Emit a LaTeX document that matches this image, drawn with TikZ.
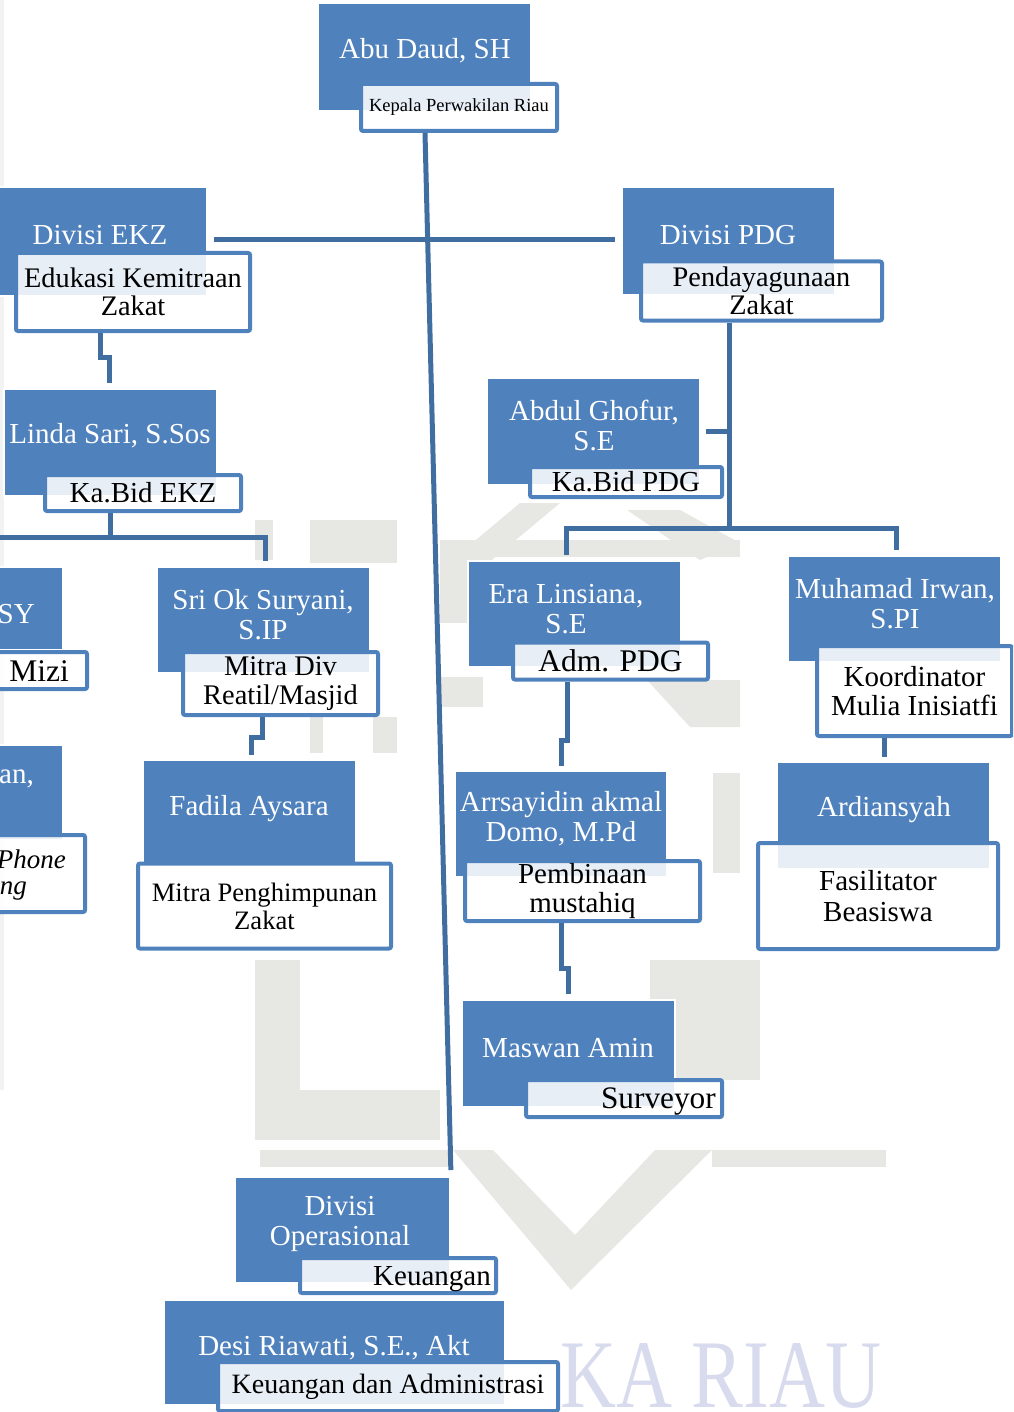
\documentclass[tikz,border=0pt]{standalone}
\usepackage{fontspec}
\setmainfont{Liberation Serif}
\usetikzlibrary{fit}
\definecolor{boxblue}{RGB}{79,129,189}
\definecolor{linkblue}{RGB}{65,110,160}
\definecolor{wmgray}{RGB}{231,232,227}
\definecolor{wmlilac}{RGB}{216,219,237}

\begin{document}
\begin{tikzpicture}[x=1pt, y=-1pt,
  namebox/.style={fill=boxblue, draw=white, line width=2pt, inner sep=0pt},
  rolebox/.style={draw=boxblue, line width=4pt, rounded corners=2pt, fill=white,
    fill opacity=0.87, text opacity=1, inner sep=0pt,
    font=\fontsize{29}{29.5}\selectfont, align=center},
  nametext/.style={text=white, font=\fontsize{29}{30}\selectfont, align=center, inner sep=0pt},
  roletext/.style={font=\fontsize{29}{30}\selectfont, inner sep=0pt},
  link/.style={draw=linkblue, line width=5pt},
  wm/.style={fill=wmgray}]

\useasboundingbox (0,0) rectangle (1013,1412);
\clip (0,0) rectangle (1013,1412);

% watermark in the back
\fill[gray!10] (0,0) rectangle (4,1090);
\fill[wm] (440,540) rectangle (740,557);
\fill[wm] (440,557) rectangle (473,623);
\fill[wm] (440,570) -- (520,503) -- (560,503) -- (480,570) -- cycle;
\fill[wm] (627,510) -- (680,510) -- (740,543) -- (700,560) -- cycle;
\fill[wm] (255,520) rectangle (273,560);
\fill[wm] (310,520) rectangle (397,563);
\fill[wm] (310,717) rectangle (323,753);
\fill[wm] (373,717) rectangle (397,753);
\fill[wm] (440,677) rectangle (483,707);
\fill[wm] (647,680) -- (740,680) -- (740,727) -- (690,727) -- cycle;
\fill[wm] (713,773) rectangle (740,873);
\fill[wm] (255,960) rectangle (300,1140);
\fill[wm] (300,1090) rectangle (440,1140);
\fill[wm] (650,960) rectangle (760,1080);
\fill[wm] (260,1150) rectangle (453,1167);
\fill[wm] (712,1150) rectangle (886,1167);
\fill[wm] (453,1150) -- (493,1150) -- (575,1235) -- (655,1150) -- (712,1150) -- (571,1290) -- cycle;
\node[text=wmlilac, font=\fontsize{97}{97}\selectfont, xscale=0.8, anchor=base west, inner sep=0pt]
  (wmtext) at (560,1407) {KA RIAU};

% head
\node[namebox, fit={(318,3) (531,111)}] (abu) {};
\node[nametext] (abu-t) at (425,51) {Abu Daud, SH};
\node[rolebox, minimum width=196, minimum height=47, font=\fontsize{18.5}{19}\selectfont] (kepala) at (459,107.5) {Kepala Perwakilan Riau};

% divisi EKZ
\node[namebox, fit={(-10,187) (207,296)}] (ekz) {};
\node[nametext] (ekz-t) at (100,235) {Divisi EKZ};
\node[rolebox, minimum width=234, minimum height=78, font=\fontsize{28.3}{28.5}\selectfont] (ekzr) at (133,292) {Edukasi Kemitraan\\Zakat};

\node[namebox, fit={(4,389) (217,496)}] (linda) {};
\node[nametext] (linda-t) at (110,436) {Linda Sari, S.Sos};
\node[rolebox, minimum width=196, minimum height=36] (lindar) at (143,493) {Ka.Bid EKZ};

\node[namebox, fit={(-150,567) (63,650)}] (sy) {};
\node[nametext, anchor=base east] (sy-t) at (35,623) {SY};
\node[rolebox, minimum width=237, minimum height=37] (syr) at (-31.5,670.5) {};
\node[roletext, anchor=base east, font=\fontsize{31.5}{32}\selectfont] (syr-t) at (69,681) {Mizi};

\node[namebox, fit={(-150,745) (63,840)}] (an) {};
\node[nametext, anchor=base east] (an-t) at (34,783) {an,};
\node[rolebox, minimum width=235, minimum height=77] (anr) at (-32.5,873.5) {};
\node[roletext, anchor=base east, font=\fontsize{27}{27}\itshape] (anr-t1) at (66,868) {Phone};
\node[roletext, anchor=base east, font=\fontsize{27}{27}\itshape] (anr-t2) at (27,894) {ng};

\node[namebox, fit={(157,567) (370,673)}] (sri) {};
\node[nametext] (sri-t) at (263,615) {Sri Ok Suryani,\\S.IP};
\node[rolebox, minimum width=195, minimum height=63, font=\fontsize{28.4}{29}\selectfont] (srir) at (280.5,683.5) {Mitra Div\\Reatil/Masjid};

\node[namebox, fit={(143,760) (356,866)}] (fadila) {};
\node[nametext] (fadila-t) at (249,809) {Fadila Aysara};
\node[rolebox, minimum width=253, minimum height=85, font=\fontsize{26.6}{28}\selectfont] (fadilar) at (264.5,906) {Mitra Penghimpunan\\Zakat};

% divisi PDG
\node[namebox, fit={(622,187) (835,295)}] (pdg) {};
\node[nametext] (pdg-t) at (728,235) {Divisi PDG};
\node[rolebox, minimum width=241, minimum height=59, font=\fontsize{28.3}{28.5}\selectfont] (pdgr) at (761.5,291) {Pendayagunaan\\Zakat};

\node[namebox, fit={(487,378) (700,485)}] (abdul) {};
\node[nametext] (abdul-t) at (594,425) {Abdul Ghofur,\\S.E};
\node[rolebox, minimum width=192, minimum height=30] (abdulr) at (626,482) {Ka.Bid PDG};

\node[namebox, fit={(468,561) (681,667)}] (era) {};
\node[nametext] (era-t) at (566,609) {Era Linsiana,\\S.E};
\node[rolebox, minimum width=195, minimum height=37, font=\fontsize{31.5}{32}\selectfont] (erar) at (610.5,661) {Adm. PDG};

\node[namebox, fit={(455,771) (667,877)}] (arr) {};
\node[nametext] (arr-t) at (561,819) {Arrsayidin akmal\\Domo, M.Pd};
\node[rolebox, minimum width=235, minimum height=60] (arrr) at (582.5,891) {Pembinaan\\mustahiq};

\node[namebox, fit={(462,1000) (675,1107)}] (maswan) {};
\node[nametext] (maswan-t) at (568,1048) {Maswan Amin};
\node[rolebox, minimum width=196, minimum height=37] (maswanr) at (624,1098.5) {};
\node[roletext, anchor=base east, font=\fontsize{31.3}{32}\selectfont] (maswanr-t) at (716,1108) {Surveyor};

\node[namebox, fit={(788,556) (1001,662)}] (irwan) {};
\node[nametext] (irwan-t) at (895,604) {Muhamad Irwan,\\S.PI};
\node[rolebox, minimum width=195, minimum height=90] (irwanr) at (914.5,691) {Koordinator\\Mulia Inisiatfi};

\node[namebox, fit={(777,762) (990,869)}] (ardi) {};
\node[nametext] (ardi-t) at (884,810) {Ardiansyah};
\node[rolebox, minimum width=240, minimum height=106, font=\fontsize{29}{31}\selectfont] (ardir) at (878,896) {Fasilitator\\Beasiswa};

% divisi operasional
\node[namebox, fit={(235,1177) (450,1283)}] (ops) {};
\node[nametext] (ops-t) at (340,1224) {Divisi\\Operasional};
\node[rolebox, minimum width=196, minimum height=35] (opsr) at (398,1275.5) {};
\node[roletext, anchor=base east] (opsr-t) at (491,1285) {Keuangan};

\node[namebox, fit={(164,1300) (505,1405)}] (desi) {};
\node[nametext] (desi-t) at (334,1348) {Desi Riawati, S.E., Akt};
\node[rolebox, minimum width=340, minimum height=49, font=\fontsize{28}{29}\selectfont] (desir) at (388,1386.5) {Keuangan dan Administrasi};

% lines
\coordinate (mx) at (425,0);
\coordinate (hy) at (0,240);
\draw[link, shorten >=6pt] (kepala.south -| mx) -- (ops.north east);
\draw[link] ([xshift=6pt]ekz.east |- hy) -- ([xshift=-6pt]pdg.west |- hy);

\coordinate (j1) at (100,357);
\coordinate (j2) at (109,357);
\draw[link, shorten >=5pt] (ekzr.south -| j1) -- (j1) -- (j2) -- (linda.north -| j2);

\coordinate (j3) at (110,537);
\coordinate (j4) at (265,537);
\coordinate (j5) at (-5,537);
\draw[link] (lindar.south -| j3) -- (j3);
\draw[link, shorten >=5pt] (j5) -- (j4) -- (sri.north -| j4);

\coordinate (j6) at (262,737);
\coordinate (j7) at (251,737);
\draw[link, shorten >=4pt] (srir.south -| j6) -- (j6) -- (j7) -- (fadila.north -| j7);

\coordinate (j8) at (729,528);
\coordinate (j9) at (566,528);
\coordinate (j10) at (896,528);
\coordinate (j11) at (729,431);
\draw[link] (pdgr.south -| j8) -- (j8);
\draw[link] ([xshift=5pt]abdul.east |- j11) -- (j11);
\draw[link, shorten <=5pt, shorten >=5pt] (era.north -| j9) -- (j9) -- (j10) -- (irwan.north -| j10);

\coordinate (j12) at (567,740);
\coordinate (j13) at (561,740);
\draw[link, shorten >=4pt] (erar.south -| j12) -- (j12) -- (j13) -- (arr.north -| j13);

\coordinate (j14) at (561,968);
\coordinate (j15) at (568,968);
\draw[link, shorten >=5pt] (arrr.south -| j14) -- (j14) -- (j15) -- (maswan.north -| j15);

\coordinate (j16) at (884,0);
\draw[link, shorten >=4pt] (irwanr.south -| j16) -- (ardi.north -| j16);
\end{tikzpicture}
\end{document}
